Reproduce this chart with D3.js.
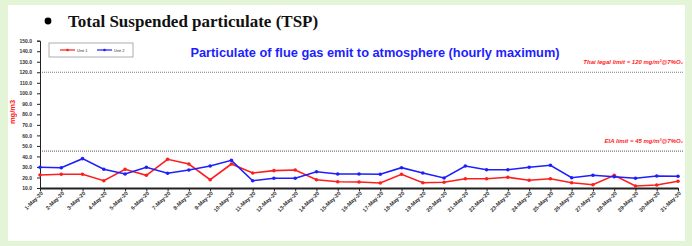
<!DOCTYPE html>
<html lang="en">
<head>
  <meta charset="UTF-8">
  <title>Total Suspended particulate (TSP)</title>
  <style>
    body { margin: 0; background: #e4f4d6; }
    svg { display: block; }
    .axis path, .axis line { stroke: #222; }
    .axis text { font-family: Arial, "Liberation Sans", sans-serif; font-weight: bold; fill: #333; }
  </style>
</head>
<body>
  <script src="https://d3js.org/d3.v7.min.js"></script>
  <script>
    // data
    const days = d3.range(1, 32).map(d => `${d}-May-20`);
    const unit1 = [22.4, 23, 23, 16.9, 27.8, 22.1, 37.3, 32.8, 17.9, 32.8,
                   24.3, 26.5, 27.1, 17.9, 16, 15.7, 14.8, 23, 15, 15.4,
                   18.8, 18.8, 20.2, 17.3, 18.8, 15, 13.1, 22.1, 11.9, 12.9, 16.4];
    const unit2 = [29.7, 29.3, 37.9, 27.8, 23.3, 29.7, 24, 27.1, 30.9, 36.3,
                   16.9, 19.2, 19.2, 25.5, 23.3, 23.3, 23, 29.3, 24.3, 19.5,
                   30.9, 27.4, 27.4, 29.7, 31.6, 19.8, 22.1, 20.7, 19.2, 21.4, 21.1];
    const seriesNames = ['Unit 1', 'Unit 2'];
    const yTicks = d3.range(10, 151, 10);
    const limits = [
      {value: 120, label: 'Thai legal limit  = 120 mg/m³@7%O₂'},
      {value: 45, label: 'EIA limit  = 45 mg/m³@7%O₂'}
    ];

    const W = 692, H = 246;
    const colors = ['#ff1e1e', '#1e1eff'];

    const svg = d3.select('body').append('svg')
      .attr('width', W).attr('height', H);

    // slide area
    svg.append('rect')
      .attr('x', 8).attr('y', 5)
      .attr('width', 677).attr('height', 236)
      .attr('fill', '#fff');

    // header
    svg.append('circle').attr('cx', 48).attr('cy', 21).attr('r', 3.4).attr('fill', '#000');
    svg.append('text')
      .attr('x', 68).attr('y', 27)
      .attr('font-family', '"Liberation Serif", "Times New Roman", serif')
      .attr('font-weight', 'bold')
      .attr('font-size', 17)
      .attr('fill', '#111')
      .text('Total Suspended particulate (TSP)');

    // scales
    const x = d3.scalePoint().domain(days).range([40, 678]);
    const y = d3.scaleLinear().domain([10, 150]).range([188, 40.7]);

    // limit lines
    limits.forEach(l => {
      svg.append('line')
        .attr('x1', 40).attr('x2', 684)
        .attr('y1', y(l.value)).attr('y2', y(l.value))
        .attr('stroke', '#777').attr('stroke-width', 1.2)
        .attr('stroke-dasharray', '1,1');
      svg.append('text')
        .attr('x', 683).attr('y', y(l.value) - 8)
        .attr('text-anchor', 'end')
        .attr('font-family', 'Arial, sans-serif')
        .attr('font-size', 6)
        .attr('font-style', 'italic')
        .attr('font-weight', 'bold')
        .attr('fill', '#ff2020')
        .text(l.label);
    });

    // axes
    const yAxis = d3.axisLeft(y).tickValues(yTicks).tickSize(3).tickFormat(d3.format('.1f'));
    svg.append('g')
      .attr('class', 'axis')
      .attr('transform', 'translate(40,0)')
      .call(yAxis)
      .call(g => g.selectAll('text').attr('font-size', 5).attr('dx', -2))
      .call(g => g.select('.domain').attr('stroke-width', 1));

    const xAxis = d3.axisBottom(x).tickSize(3).tickSizeOuter(0);
    svg.append('g')
      .attr('class', 'axis')
      .attr('transform', `translate(0,${y(10)})`)
      .call(xAxis)
      .call(g => g.select('.domain').attr('stroke-width', 2).attr('stroke', '#000'))
      .call(g => g.selectAll('text')
        .attr('font-size', 5.5)
        .attr('text-anchor', 'end')
        .attr('transform', 'rotate(-45)')
        .attr('dx', -2).attr('dy', 6)
        .attr('y', 0).attr('x', 0));

    // y label
    svg.append('text')
      .attr('transform', 'translate(15,112) rotate(-90)')
      .attr('text-anchor', 'middle')
      .attr('font-family', 'Arial, sans-serif')
      .attr('font-weight', 'bold')
      .attr('font-size', 7.5)
      .attr('fill', '#ff2020')
      .text('mg/m3');

    // chart title
    svg.append('text')
      .attr('x', 375).attr('y', 57)
      .attr('text-anchor', 'middle')
      .attr('font-family', 'Arial, "Liberation Sans", sans-serif')
      .attr('font-weight', 'bold')
      .attr('font-size', 12.8)
      .attr('fill', '#1e1eff')
      .text('Particulate of flue gas emit to atmosphere (hourly maximum)');

    // series
    const line = d3.line().x((d, i) => x(days[i])).y(d => y(d));
    [unit1, unit2].forEach((vals, k) => {
      svg.append('path')
        .datum(vals)
        .attr('fill', 'none')
        .attr('stroke', colors[k])
        .attr('stroke-width', 1.6)
        .attr('d', line);
      svg.append('g').selectAll('circle')
        .data(vals)
        .enter()
        .append('circle')
        .attr('cx', (d, i) => x(days[i]))
        .attr('cy', d => y(d))
        .attr('r', 1.8)
        .attr('fill', colors[k]);
    });

    // legend
    const legend = svg.append('g').attr('transform', 'translate(49,43)');
    legend.append('rect')
      .attr('width', 84).attr('height', 14)
      .attr('fill', '#fff').attr('stroke', '#999').attr('stroke-width', 0.8);
    seriesNames.forEach((name, k) => {
      const gx = 11 + k * 37;
      legend.append('line')
        .attr('x1', gx).attr('x2', gx + 15).attr('y1', 7).attr('y2', 7)
        .attr('stroke', colors[k]).attr('stroke-width', 1.2);
      legend.append('circle')
        .attr('cx', gx + 7.5).attr('cy', 7).attr('r', 1.3).attr('fill', colors[k]);
      legend.append('text')
        .attr('x', gx + 17).attr('y', 8.5)
        .attr('font-family', 'Arial, sans-serif')
        .attr('font-size', 4)
        .attr('fill', '#333')
        .text(name);
    });
  </script>
</body>
</html>
